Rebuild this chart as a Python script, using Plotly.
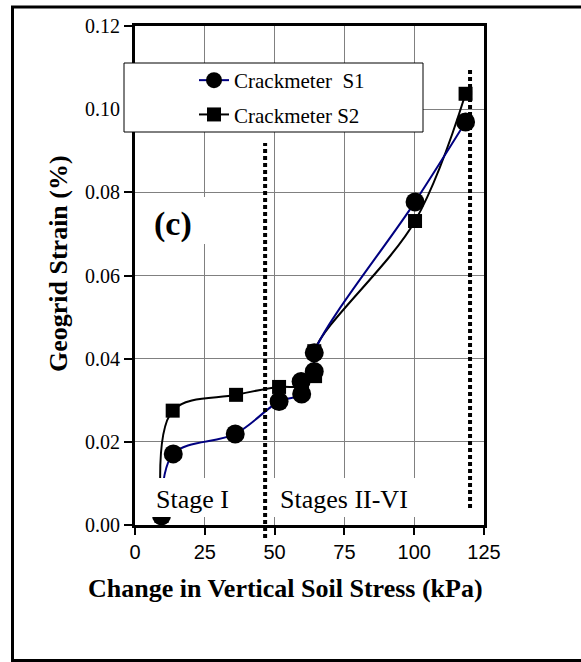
import plotly.graph_objects as go

# ---- data ----
stress_s1 = [9.5, 13.7, 35.9, 51.6, 59.7, 59.5, 64.2, 64.2, 100.3, 118.4]
strain_s1 = [0.0022, 0.0171, 0.0219, 0.0297, 0.0315, 0.0345, 0.0369, 0.0414, 0.0777, 0.0969]

stress_s2 = [9.5, 13.5, 36.2, 51.6, 59.8, 64.5, 64.2, 100.3, 118.4]
strain_s2 = [0.0022, 0.0275, 0.0313, 0.0332, 0.0334, 0.0358, 0.0418, 0.0731, 0.1037]

series_names = ["Crackmeter\u00a0 S1", "Crackmeter S2"]
stage_boundaries = [46.6, 120.0]
stage_labels = ["Stage I", "Stages II-VI"]
stage_label_x = [20.6, 74.7]
x_ticks = [0, 25, 50, 75, 100, 125]
y_ticks = [0.00, 0.02, 0.04, 0.06, 0.08, 0.10, 0.12]

SERIF = "Liberation Serif"
SANS = "Liberation Sans"

fig = go.Figure()

# S2 first so S1 circles sit on top
fig.add_trace(go.Scatter(
    x=stress_s2, y=strain_s2, name=series_names[1], mode="lines+markers",
    line=dict(color="black", width=2, shape="spline", smoothing=1.0),
    marker=dict(symbol="square", size=14, color="black"),
    legendrank=2, legendgroup="s2",
))
fig.add_trace(go.Scatter(
    x=stress_s1, y=strain_s1, name=series_names[0], mode="lines+markers",
    line=dict(color="#000080", width=2, shape="spline", smoothing=1.0),
    marker=dict(symbol="circle", size=19, color="black"),
    legendrank=1, legendgroup="s1",
))

# plot geometry in px (for paper coordinate conversion)
L, R, T, B = 135, 484, 26, 525
W, H = R - L, B - T
def px(xp):
    return (xp - L) / W
def py(yp):
    return (B - yp) / H

def white_box(x0, x1, y0, y1, border=0):
    return dict(type="rect", xref="paper", yref="paper",
                x0=px(x0), x1=px(x1), y0=py(y1), y1=py(y0),
                line=dict(color="black", width=border) if border else dict(width=0),
                fillcolor="white", layer="above")

shapes = []
# outer frame
shapes.append(dict(type="rect", xref="paper", yref="paper",
                   x0=px(12.5), x1=px(610), y0=py(660.5), y1=py(7),
                   line=dict(color="black", width=3), fillcolor="rgba(0,0,0,0)", layer="above"))
# legend box and white label backgrounds
shapes.append(white_box(124, 423, 63, 132, border=1))
shapes.append(white_box(141, 211, 197, 244))
shapes.append(white_box(150, 236, 478, 517))
shapes.append(white_box(270, 419, 478, 517))
# stage boundary dotted lines
dot_extent = [(py(538), py(143)), (py(508), py(67))]
for xb, (y0, y1) in zip(stage_boundaries, dot_extent):
    shapes.append(dict(type="line", xref="x", yref="paper", x0=xb, x1=xb, y0=y0, y1=y1,
                       line=dict(color="black", width=4, dash="4px,3px"), layer="above"))

annotations = []
annotations.append(dict(x=13.6, y=0.0723, xref="x", yref="y", text="<b>(c)</b>",
                        showarrow=False,
                        font=dict(family=SERIF, size=34, color="black")))
for lbl, lx in zip(stage_labels, stage_label_x):
    annotations.append(dict(x=lx, y=0.0062, xref="x", yref="y", text=lbl,
                            showarrow=False,
                            font=dict(family=SERIF, size=26, color="black")))
annotations.append(dict(x=px(285), y=py(588), xref="paper", yref="paper",
                        text="<b>Change in Vertical Soil Stress (kPa)</b>", showarrow=False,
                        xanchor="center", yanchor="middle",
                        font=dict(family=SERIF, size=26, color="black")))
annotations.append(dict(x=px(58), y=py(264), xref="paper", yref="paper",
                        text="<b>Geogrid Strain (%)</b>", showarrow=False, textangle=-90,
                        xanchor="center", yanchor="middle",
                        font=dict(family=SERIF, size=26, color="black")))

fig.update_layout(
    width=581, height=662,
    margin=dict(l=L, r=581 - R, t=T, b=662 - B, autoexpand=False),
    paper_bgcolor="white", plot_bgcolor="white",
    showlegend=True,
    legend=dict(x=px(194), y=py(60), xanchor="left", yanchor="top",
                bgcolor="rgba(0,0,0,0)", borderwidth=0,
                font=dict(family=SERIF, size=21, color="black"),
                tracegroupgap=4, traceorder="grouped"),
    shapes=shapes, annotations=annotations,
    xaxis=dict(range=[0, 125], tickvals=x_ticks, ticktext=[str(v) for v in x_ticks],
               showgrid=True, gridcolor="#808080", gridwidth=1,
               showline=True, linecolor="black", linewidth=3, mirror=True,
               ticks="outside", ticklen=7, tickwidth=2, tickcolor="black",
               tickfont=dict(family=SANS, size=20, color="black"), zeroline=False),
    yaxis=dict(range=[0, 0.12], tickvals=y_ticks, ticktext=[f"{v:.2f}" for v in y_ticks],
               showgrid=True, gridcolor="#808080", gridwidth=1,
               showline=True, linecolor="black", linewidth=3, mirror=True,
               ticks="outside", ticklen=8, tickwidth=2, tickcolor="black",
               tickfont=dict(family=SERIF, size=20, color="black"), zeroline=False),
)

fig.write_html("out.html")
